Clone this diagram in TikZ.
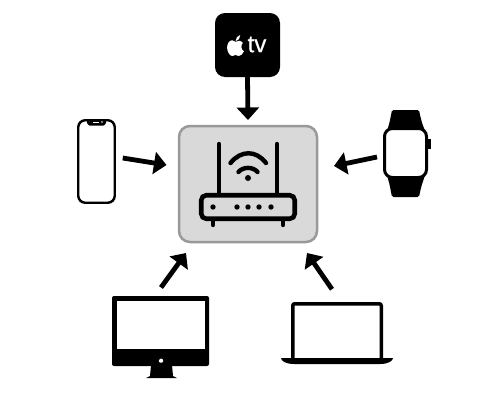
\documentclass[tikz,border=0pt]{standalone}
\usepackage{fontspec}
\setmainfont{Liberation Sans}
\newfontfamily\tvfont[FakeBold=0.5]{Liberation Sans}
\usepackage{tikz}
\usetikzlibrary{arrows.meta}

\tikzset{
	device/.style={draw=black, fill=white, inner sep=0pt, outer sep=0pt},
	link/.style={line width=4.8pt, -{Triangle[width=22pt,length=12.5pt]}},
	wire/.style={line width=4.4pt, line cap=round},
	blob/.style={fill=black, draw=none},
	pics/applelogo/.style={code={
		\fill[white] (0,-3.5) .. controls (2,-5) and (5,-5) .. (7,-2.5)
			.. controls (5,-0.5) and (5,4) .. (8,5.5)
			.. controls (7,8) and (5,10) .. (3,10)
			.. controls (2,10) and (1,9) .. (0,9)
			.. controls (-1,9) and (-2,10) .. (-3,10)
			.. controls (-6,10) and (-8,5) .. (-8,2)
			.. controls (-8,-3) and (-5,-5) .. (-3,-5)
			.. controls (-2,-5) and (-1,-3.5) .. (0,-3.5) -- cycle;
		\fill[white] (0,-4) .. controls (0,-7) and (2,-9.5) .. (4.5,-10)
			.. controls (4.5,-7) and (3,-4.5) .. (0,-4) -- cycle;
	}}
}

\begin{document}
\begin{tikzpicture}[x=1pt, y=-1pt]
	\useasboundingbox (0,0) rectangle (501,402);

	\node[draw=black!40, fill=black!15, line width=2.5pt, rounded corners=11pt, inner sep=0pt, outer sep=0pt, minimum width=138pt, minimum height=116pt] (hub) at (248,184) {};

	% router
	\draw[wire] (219,144) -- (219,193);
	\draw[wire] (277,144) -- (277,193);
	\node[device, fill=none, line width=4.6pt, rounded corners=5pt, minimum width=93.5pt, minimum height=23.5pt] (router) at (248,207) {};
	\draw[wire] (213,221) -- (213,225);
	\draw[wire] (283,221) -- (283,225);
	\foreach \x in {213,237,248,259,271}
		\fill (\x,207) circle(2.7);
	\draw[wire] (230.5,163) .. controls (241,150) and (256,150) .. (266,163);
	\draw[wire] (238.5,172) .. controls (243,166.5) and (253,166.5) .. (257.5,172);
	\fill (248,178) circle(3);

	% apple tv
	\node[blob, rounded corners=10pt, inner sep=0pt, outer sep=0pt, minimum width=65pt, minimum height=64pt] (tvbox) at (247.5,45) {};
	\pic[scale=1.05] at (235.5,45.5) {applelogo};
	\node[white, inner sep=0pt, font=\tvfont\fontsize{24}{24}\selectfont] (tvlabel) at (257,44.5) {tv};

	% phone
	\node[device, line width=2.4pt, rounded corners=7pt, minimum width=36.5pt, minimum height=82.5pt] (phone) at (96.5,161.5) {};
	\fill[rounded corners=1.5pt] (86,119) -- (107,119) -- (105,125.5) -- (88,125.5) -- cycle;
	\draw[white, line width=0.8pt] (93,122) -- (99,122);
	\fill[white] (102,122) circle(0.8);

	% watch
	\fill[rounded corners=1.5pt] (385,135) .. controls (389,127) and (390,120) .. (392,110) -- (419,110) .. controls (421,120) and (423,127) .. (427,135) -- cycle;
	\fill[rounded corners=1.5pt] (385,171) .. controls (389,180) and (390,187) .. (392,197) -- (419,197) .. controls (421,187) and (423,180) .. (427,171) -- cycle;
	\fill (427,139) rectangle (430.5,149);
	\node[device, line width=3pt, rounded corners=8pt, minimum width=42pt, minimum height=49pt] (watch) at (405.5,153) {};

	% imac
	\fill (151,365) -- (172,365) -- (173,376) -- (177,378) -- (146,378) -- (150,376) -- cycle;
	\node[blob, rounded corners=2pt, inner sep=0pt, outer sep=0pt, minimum width=97pt, minimum height=70pt] (imac) at (160.5,331) {};
	\node[device, draw=none, minimum width=88pt, minimum height=48pt] (screen) at (161,325) {};
	\pic[scale=0.27] at (161,360) {applelogo};

	% laptop
	\node[device, line width=3.5pt, rounded corners=2pt, minimum width=88.5pt, minimum height=57.5pt] (laptop) at (337,332.5) {};
	\fill (281,358) -- (393,358) .. controls (393,361) and (388,364) .. (380,364) -- (294,364) .. controls (286,364) and (281,361) .. (281,358) -- cycle;

	\draw[link] (tvbox.south) -- ([yshift=6pt]hub.north);
	\draw[link] ([xshift=8pt,yshift=3.5pt]phone.east) -- ([xshift=-12.5pt,yshift=19pt]hub.west);
	\draw[link] ([xshift=-7.5pt,yshift=-4pt]watch.west) -- ([xshift=17pt,yshift=18pt]hub.east);
	\draw[link] ([xshift=0.5pt,yshift=8.5pt]imac.north) -- ([xshift=-62pt,yshift=-11pt]hub.south);
	\draw[link] ([xshift=-5pt,yshift=14.5pt]laptop.north) -- ([xshift=59pt,yshift=-11pt]hub.south);
\end{tikzpicture}
\end{document}
